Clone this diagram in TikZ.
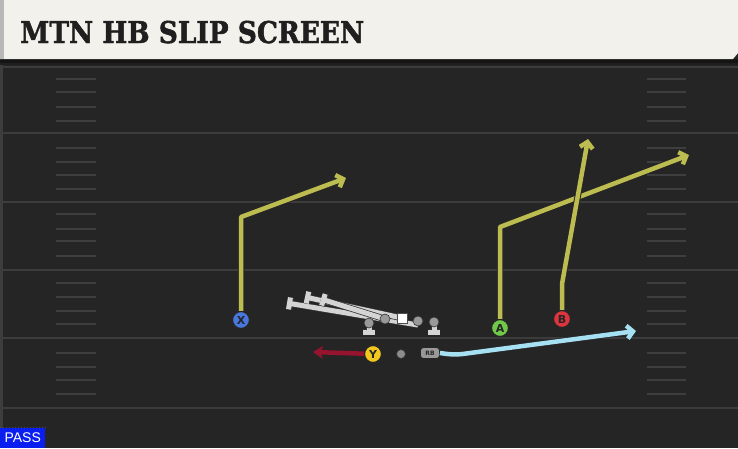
\documentclass[tikz,border=0pt]{standalone}
\usepackage{fontspec}
\setmainfont{DejaVu Sans}
\newfontfamily\titlefont{DejaVu Serif}[FakeBold=1.6]
\newfontfamily\passfont{Liberation Sans}
\usetikzlibrary{arrows.meta}
\definecolor{fieldbg}{RGB}{37,37,37}
\definecolor{fieldline}{RGB}{60,60,60}
\definecolor{hashcol}{RGB}{62,62,62}
\definecolor{titlebg}{RGB}{243,241,235}
\definecolor{routecol}{RGB}{188,188,80}
\definecolor{xblue}{RGB}{72,120,222}
\definecolor{agreen}{RGB}{112,202,72}
\definecolor{bred}{RGB}{222,52,62}
\definecolor{yyellow}{RGB}{242,200,32}
\definecolor{yroutecol}{RGB}{150,20,45}
\definecolor{rbroutecol}{RGB}{165,225,242}
\definecolor{passblue}{RGB}{10,30,240}
\definecolor{blockcol}{RGB}{212,212,212}
\pgfdeclarelayer{bg}
\pgfdeclarelayer{lines}
\pgfsetlayers{bg,lines,main}
\begin{document}
\begin{tikzpicture}[x=1pt,y=-1pt,
  fline/.style={draw=fieldline,line width=2pt},
  hashmark/.style={draw=hashcol,line width=1.5pt},
  player/.style={circle,draw=black!85,line width=1.2pt,minimum size=17pt,inner sep=0pt,
    font=\bfseries\fontsize{11}{11}\selectfont,text=black!85},
  route/.style={draw=routecol,line width=4.5pt,line join=round,
    preaction={draw=black!85,line width=6.5pt},
    -{Straight Barb[length=6pt,width=13pt]}},
  yroute/.style={draw=yroutecol,line width=4.5pt,
    -{Stealth[length=10pt,width=13pt,inset=3pt]}},
  rbroute/.style={draw=rbroutecol,line width=4.5pt,line join=round,rounded corners=8pt,
    preaction={draw=black!85,line width=6pt},
    -{Straight Barb[length=6pt,width=13pt]}},
  blockline/.style={draw=blockcol,line width=5pt,
    preaction={draw=black!80,line width=6.5pt},
    -{Bar[width=12pt]}},
  olman/.style={circle,fill=black!40,draw=black!80,line width=0.6pt,minimum size=10pt,inner sep=0pt},
  ctrman/.style={rectangle,fill=white,draw=black!70,line width=0.6pt,minimum size=10pt,inner sep=0pt}]
\useasboundingbox (0,0) rectangle (738,448);
\begin{pgfonlayer}{bg}
\fill[fieldbg] (0,0) rectangle (738,448);
\fill[black!76] (0,59) rectangle (3,448);
\foreach \yy in {67,133,202,270,338,408} \draw[fline] (0,\yy) -- (738,\yy);
\foreach \yy in {79,92,107,121,148,162,175,189,214,229,241,256,283,297,311,324,353,367,380,394}
  {\draw[hashmark] (56,\yy) -- (96,\yy); \draw[hashmark] (647,\yy) -- (686,\yy);}
\fill[black!92] (0,59) rectangle (738,63);
\fill[black!88] (0,63) rectangle (738,65);
\fill[titlebg] (0,0) -- (738,0) -- (738,53) -- (733,59) -- (0,59) -- cycle;
\fill[black!28] (0,0) rectangle (4,59);
\end{pgfonlayer}
\node[anchor=base west,inner sep=0pt,text=black!88,
  font=\titlefont\bfseries\fontsize{30}{30}\selectfont] (title) at (20,43)
  {\scalebox{0.88}[1]{MTN HB SLIP SCREEN}};
% offensive line
\node[olman] (T1) at (369,323) {};
\node[olman] (G1) at (385,319) {};
\node[ctrman] (C) at (402,318) {};
\node[olman] (G2) at (418,321) {};
\node[olman] (T2) at (434,322) {};
\coordinate (Ba) at (287,303);
\coordinate (Bb) at (305,297);
\coordinate (Bc) at (321,299);
\coordinate (Bd) at (369,335);
\coordinate (Be) at (434,335);
\begin{pgfonlayer}{lines}
\draw[blockline] ([yshift=-4pt]G2.center) -- (Ba);
\draw[blockline] (C.center) -- (Bb);
\draw[blockline] (G1.center) -- (Bc);
\draw[blockline] (T1.center) -- (Bd);
\draw[blockline] (T2.center) -- (Be);
\end{pgfonlayer}
% skill players
\node[player,fill=xblue] (X) at (241,320) {X};
\node[player,fill=agreen] (A) at (500,328) {A};
\node[player,fill=bred] (B) at (562,319) {B};
\node[player,fill=yyellow] (Y) at (373,354) {Y};
\node[circle,fill=black!45,draw=black!80,line width=0.6pt,minimum size=9pt,inner sep=0pt] (QB) at (401,354) {};
\node[rectangle,rounded corners=3pt,fill=black!40,draw=black!85,line width=0.8pt,
  minimum width=19pt,minimum height=11pt,inner sep=0pt,text=black!85,
  font=\bfseries\fontsize{6}{6}\selectfont] (RB) at (430,353) {RB};
% routes
\coordinate (Xc) at (241,217);
\coordinate (Xe) at (346,178);
\coordinate (Ac) at (500,227);
\coordinate (Ae) at (689,155);
\coordinate (Bcn) at (562,284);
\coordinate (Bend) at (588,139);
\coordinate (Ye) at (313,352);
\coordinate (Rc) at (455,355);
\coordinate (Re) at (636,331);
\draw[route] (X) -- (Xc) -- (Xe);
\draw[route] (A) -- (Ac) -- (Ae);
\draw[route] (B) -- (Bcn) -- (Bend);
\draw[yroute] (Y) -- (Ye);
\draw[rbroute] (RB.east) -- (Rc) -- (Re);
% pass tag
\node[fill=passblue,text=white,anchor=south west,minimum width=45pt,minimum height=20pt,
  inner sep=0pt,font=\passfont\fontsize{14}{14}\selectfont] (pass) at (0,448) {PASS};
\draw[black!70,dotted,line width=1pt] (pass.north west) -- (pass.north east);
\end{tikzpicture}
\end{document}
